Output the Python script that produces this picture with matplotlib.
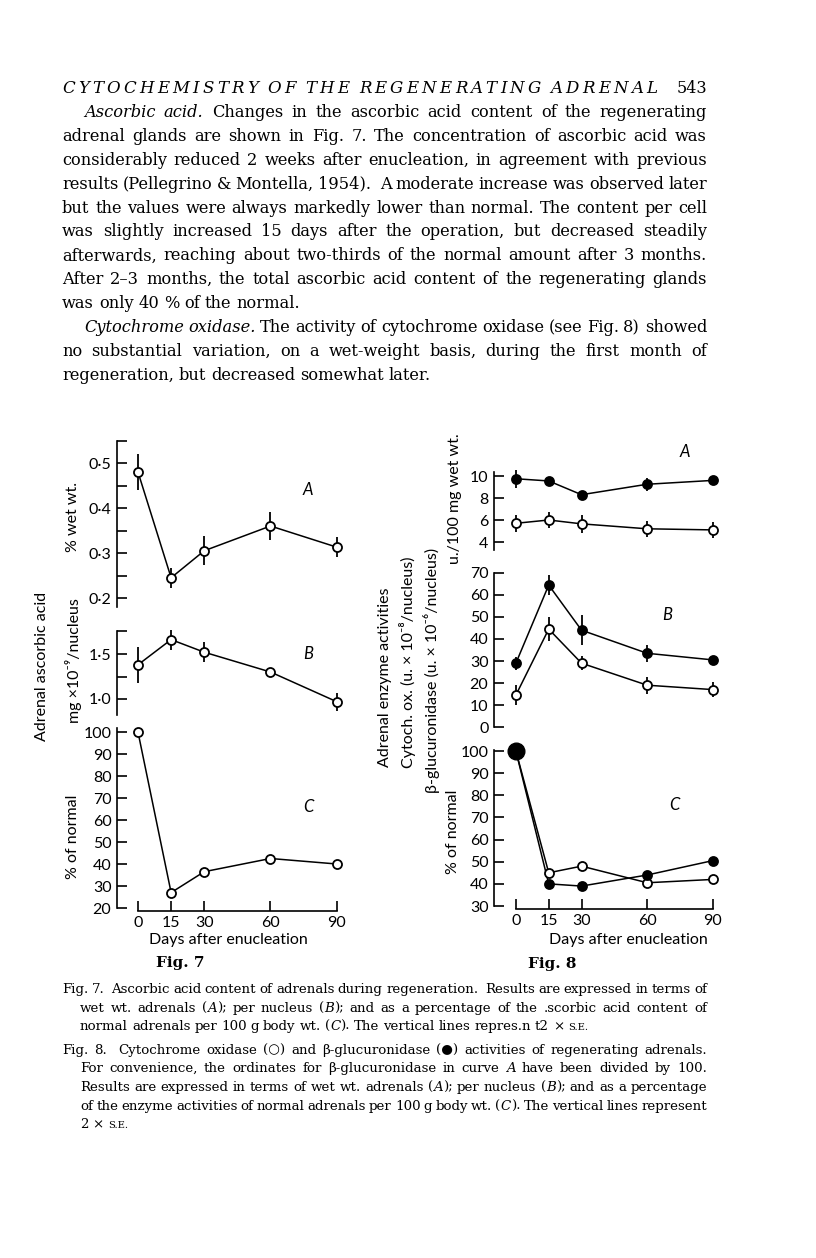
import matplotlib
matplotlib.use("Agg")
import matplotlib.pyplot as plt

W, H = 816, 1258

# ---- data ----
days = [0, 15, 30, 60, 90]
day_labels = ["0", "15", "30", "60", "90"]

# Fig. 7  ascorbic acid
asc_wet = [0.48, 0.245, 0.305, 0.36, 0.313]
asc_wet_err = [0.04, 0.022, 0.032, 0.031, 0.022]
asc_nuc = [1.38, 1.66, 1.52, 1.30, 0.97]
asc_nuc_err = [0.2, 0.11, 0.11, 0.0, 0.1]
asc_pct = [100, 27, 36.5, 42.5, 40]

# Fig. 8  cytochrome oxidase (open) and b-glucuronidase (filled)
gluc_wet = [9.75, 9.55, 8.3, 9.25, 9.6]
gluc_wet_err = [0.8, 0.0, 0.0, 0.6, 0.0]
cyt_wet = [5.7, 6.0, 5.65, 5.2, 5.1]
cyt_wet_err = [0.75, 0.75, 0.8, 0.7, 0.75]
gluc_nuc = [29, 64.5, 44, 33.5, 30.5]
gluc_nuc_err = [3, 4.5, 6.8, 3.8, 0]
cyt_nuc = [14.5, 44.5, 29, 19, 17]
cyt_nuc_err = [4.5, 5.5, 3.3, 3.8, 3.4]
gluc_pct = [100, 40, 39, 44, 50.5]
cyt_pct = [100, 45, 48, 40.5, 42]

SANS = ["Lato", "DejaVu Sans"]
SERIF = ["DejaVu Serif", "DejaVu Sans"]

header = "CYTOCHEMISTRY OF THE REGENERATING ADRENAL"
body = [
    (84, True, "*Ascorbic acid.* Changes in the ascorbic acid content of the regenerating"),
    (62, True, "adrenal glands are shown in Fig. 7. The concentration of ascorbic acid was"),
    (62, True, "considerably reduced 2 weeks after enucleation, in agreement with previous"),
    (62, True, "results (Pellegrino & Montella, 1954).  A moderate increase was observed later"),
    (62, True, "but the values were always markedly lower than normal. The content per cell"),
    (62, True, "was slightly increased 15 days after the operation, but decreased steadily"),
    (62, True, "afterwards, reaching about two-thirds of the normal amount after 3 months."),
    (62, True, "After 2–3 months, the total ascorbic acid content of the regenerating glands"),
    (62, False, "was only 40 % of the normal."),
    (84, True, "*Cytochrome oxidase.* The activity of cytochrome oxidase (see Fig. 8) showed"),
    (62, True, "no substantial variation, on a wet-weight basis, during the first month of"),
    (62, False, "regeneration, but decreased somewhat later."),
]
captions = [
    (62, 989, True, "Fig. 7.  Ascorbic acid content of adrenals during regeneration.  Results are expressed in terms of"),
    (80, 1008, True, "wet wt. adrenals (*A*); per nucleus (*B*); and as a percentage of the .scorbic acid content of"),
    (80, 1026, False, "normal adrenals per 100 g body wt. (*C*). The vertical lines repres.n t2 × ~s.e.~"),
    (62, 1050, True, "Fig. 8.  Cytochrome oxidase (○) and β-glucuronidase (●) activities of regenerating adrenals."),
    (80, 1068, True, "For convenience, the ordinates for β-glucuronidase in curve *A* have been divided by 100."),
    (80, 1087, True, "Results are expressed in terms of wet wt. adrenals (*A*); per nucleus (*B*); and as a percentage"),
    (80, 1106, True, "of the enzyme activities of normal adrenals per 100 g body wt. (*C*). The vertical lines represent"),
    (80, 1124, False, "2 × ~s.e.~"),
]


def px_axes(fig, left, top, right, bottom):
    return fig.add_axes([left / W, 1 - bottom / H, (right - left) / W, (bottom - top) / H])


def style_ax(ax, xlim, ylim, with_x=False):
    ax.set_xlim(*xlim)
    ax.set_ylim(*ylim)
    ax.patch.set_alpha(0)
    ax.spines["top"].set_visible(False)
    ax.spines["right"].set_visible(False)
    ax.spines["left"].set_linewidth(1.2)
    if with_x:
        ax.spines["bottom"].set_bounds(0, 90)
        ax.spines["bottom"].set_position(("outward", 2))
        ax.spines["bottom"].set_linewidth(1.2)
        ax.set_xticks(days)
        ax.set_xticklabels(day_labels)
    else:
        ax.spines["bottom"].set_visible(False)
        ax.set_xticks([])
    ax.tick_params(which="both", direction="in", length=7, width=1.2,
                   labelsize=11.5, pad=4)


def series(ax, y, err=None, filled=False, ms=6.5):
    if err is not None:
        ax.errorbar(days, y, yerr=err, fmt="none", ecolor="black",
                    elinewidth=1.3, capsize=0, zorder=2, clip_on=False)
    ax.plot(days, y, "-", color="black", lw=1.1, zorder=2, clip_on=False)
    ax.plot(days, y, "o", ms=ms, mfc="black" if filled else "white",
            mec="black", mew=1.3, zorder=3, clip_on=False)


def split_runs(line):
    # '*' switches italic, '~' switches small caps
    italic = small = False
    words = []
    for w in line.split(" "):
        runs, buf = [], ""
        for ch in w:
            if ch in "*~":
                if buf:
                    runs.append((buf, italic, small))
                    buf = ""
                if ch == "*":
                    italic = not italic
                else:
                    small = not small
            else:
                buf += ch
        if buf:
            runs.append((buf, italic, small))
        words.append(runs)
    return words


def make_words(fig, r, line, y, size):
    items = []
    for runs in split_runs(line):
        tl = []
        for txt, it, sm in runs:
            t = fig.text(0, 1 - y / H, txt.upper() if sm else txt, family=SERIF,
                         style="italic" if it else "normal",
                         size=size * 0.75 if sm else size, va="baseline")
            tl.append((t, t.get_window_extent(r).width))
        items.append(tl)
    return items


def fit_size(fig, r, lines, size, min_gap):
    # biggest size (<= size) at which every justified line keeps min_gap
    best = size
    for x0, x1, line in lines:
        items = make_words(fig, r, line, 0, size)
        words_w = sum(w for tl in items for _, w in tl)
        room = x1 - x0 - min_gap * (len(items) - 1)
        best = min(best, size * room / words_w)
        for tl in items:
            for t, _ in tl:
                t.remove()
    return best


def put_line(fig, r, line, x0, y, size, x1=None):
    items = make_words(fig, r, line, y, size)
    widths = [sum(w for _, w in tl) for tl in items]
    if x1 is None or len(items) < 2:
        gap = size * 100 / 72 * 0.3
    else:
        gap = (x1 - x0 - sum(widths)) / (len(items) - 1)
    x = x0
    for tl in items:
        for t, w in tl:
            t.set_x(x / W)
            x += w
        x += gap


def fig7(fig):
    xl = (-9.5, 96)
    ax = px_axes(fig, 117, 440.5, 350, 607)
    style_ax(ax, xl, (0.18, 0.55))
    ax.set_yticks([0.2, 0.3, 0.4, 0.5])
    ax.set_yticklabels(["0·2", "0·3", "0·4", "0·5"])
    ax.set_yticks([0.25, 0.35, 0.45, 0.55], minor=True)
    series(ax, asc_wet, asc_wet_err)
    ax.text(77, 0.44, "A", style="italic", size=12, ha="center", va="center")

    ax = px_axes(fig, 117, 631.5, 350, 715.2)
    style_ax(ax, xl, (0.82, 1.75))
    ax.set_yticks([1.0, 1.5])
    ax.set_yticklabels(["1·0", "1·5"])
    ax.set_yticks([1.25, 1.75], minor=True)
    series(ax, asc_nuc, asc_nuc_err)
    ax.text(77, 1.5, "B", style="italic", size=12, ha="center", va="center")

    ax = px_axes(fig, 117, 727.6, 350, 908)
    style_ax(ax, xl, (20, 102), with_x=True)
    ax.set_yticks(range(20, 101, 10))
    series(ax, asc_pct)
    ax.text(77, 66, "C", style="italic", size=12, ha="center", va="center")

    fig.text(73 / W, 1 - 517 / H, "% wet wt.", rotation=90, size=11.5, ha="center", va="center")
    fig.text(73 / W, 1 - 661 / H, "mg ×10⁻⁹/nucleus", rotation=90, size=11.5, ha="center", va="center")
    fig.text(73 / W, 1 - 837 / H, "% of normal", rotation=90, size=11.5, ha="center", va="center")
    fig.text(42 / W, 1 - 666 / H, "Adrenal ascorbic acid", rotation=90, size=11.5, ha="center", va="center")
    fig.text(228 / W, 1 - 940 / H, "Days after enucleation", size=11.5, ha="center", va="center")
    fig.text(180 / W, 1 - 963 / H, "Fig. 7", family=SERIF, weight="bold", size=11, ha="center", va="center")


def fig8(fig):
    xl = (-10, 96)
    ax = px_axes(fig, 494, 471.6, 726, 549.7)
    style_ax(ax, xl, (3.3, 10.4))
    ax.set_yticks([4, 6, 8, 10])
    series(ax, gluc_wet, gluc_wet_err, filled=True)
    series(ax, cyt_wet, cyt_wet_err)
    ax.text(77, 12.2, "A", style="italic", size=12, ha="center", va="center")

    ax = px_axes(fig, 494, 573, 726, 727)
    style_ax(ax, xl, (0, 70))
    ax.set_yticks(range(0, 71, 10))
    series(ax, gluc_nuc, gluc_nuc_err, filled=True)
    series(ax, cyt_nuc, cyt_nuc_err)
    ax.text(69, 51, "B", style="italic", size=12, ha="center", va="center")

    ax = px_axes(fig, 494, 749.9, 726, 906)
    style_ax(ax, xl, (30, 100.5), with_x=True)
    ax.set_yticks(range(30, 101, 10))
    series(ax, cyt_pct)
    series(ax, gluc_pct, filled=True)
    ax.plot(days[0], gluc_pct[0], "o", ms=12, color="black", zorder=4, clip_on=False)
    ax.text(72.6, 75.7, "C", style="italic", size=12, ha="center", va="center")

    fig.text(455 / W, 1 - 499 / H, "u./100 mg wet wt.", rotation=90, size=11.5, ha="center", va="center")
    fig.text(385 / W, 1 - 677 / H, "Adrenal enzyme activities", rotation=90, size=11.5, ha="center", va="center")
    fig.text(408 / W, 1 - 662 / H, "Cytoch. ox. (u. × 10⁻⁸/nucleus)", rotation=90, size=11.5, ha="center", va="center")
    fig.text(432 / W, 1 - 670 / H, "β-glucuronidase (u. × 10⁻⁶/nucleus)", rotation=90, size=11.5, ha="center", va="center")
    fig.text(453 / W, 1 - 832 / H, "% of normal", rotation=90, size=11.5, ha="center", va="center")
    fig.text(628 / W, 1 - 940 / H, "Days after enucleation", size=11.5, ha="center", va="center")
    fig.text(552 / W, 1 - 964 / H, "Fig. 8", family=SERIF, weight="bold", size=11, ha="center", va="center")


def page_text(fig):
    r = fig.canvas.get_renderer()
    spaced = "*" + " ".join(list(header)) + "*"
    put_line(fig, r, spaced, 62, 93, 12, x1=657)
    fig.text(707 / W, 1 - 93 / H, "543", family=SERIF, size=11.5, ha="right", va="baseline")

    just = [(x0, 707, line) for x0, j, line in body if j]
    bsize = fit_size(fig, r, just, 12.5, 4.0)
    for i, (x0, j, line) in enumerate(body):
        y = 117 + i * 23.9
        put_line(fig, r, line, x0, y, bsize, x1=707 if j else None)

    just = [(x0, 707, line) for x0, y, j, line in captions if j]
    csize = fit_size(fig, r, just, 10.5, 3.0)
    for x0, y, j, line in captions:
        put_line(fig, r, line, x0, y + 4, csize, x1=707 if j else None)


def main():
    plt.rcParams["font.family"] = SANS
    fig = plt.figure(figsize=(W / 100, H / 100), dpi=100)
    fig.patch.set_facecolor("white")
    fig7(fig)
    fig8(fig)
    page_text(fig)
    fig.savefig("out.png", dpi=100)


main()
